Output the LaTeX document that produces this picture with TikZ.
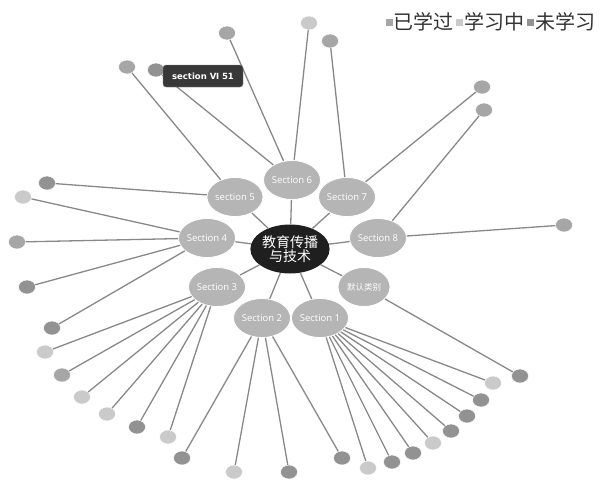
\documentclass[tikz,border=0pt]{standalone}
\usepackage{fontspec}
\newfontfamily\cjk{Noto Sans CJK SC}
\newfontfamily\secfont{Open Sans}
\newfontfamily\tipfont{DejaVu Sans}
\usetikzlibrary{shapes.geometric,positioning}
\definecolor{learned}{HTML}{A6A6A6}
\definecolor{learning}{HTML}{CACACA}
\definecolor{notyet}{HTML}{929292}
\definecolor{secgray}{HTML}{B5B5B5}
\definecolor{linegray}{HTML}{888888}
\tikzset{
  sect/.style={ellipse, fill=secgray, draw=white, line width=0.8pt, minimum width=52pt, minimum height=39pt, inner sep=0pt, text=white, font=\secfont\fontsize{9.5}{10}\selectfont},
  leaf/.style={ellipse, draw=white, line width=0.5pt, minimum width=17pt, minimum height=14pt, inner sep=0pt},
  rootnode/.style={ellipse, fill=black!88, minimum width=64pt, minimum height=49pt, inner sep=0pt, text=white, align=center, font=\cjk\fontsize{14}{14}\selectfont},
  link/.style={linegray, line width=1.3pt},
  legbox/.style={minimum size=7pt, inner sep=0pt},
  legtext/.style={inner sep=0pt, text=black!80, font=\cjk\fontsize{20}{20}\selectfont},
}
\begin{document}
\begin{tikzpicture}[x=1pt,y=-1pt]
  \useasboundingbox (0,0) rectangle (609,479);
  % centre and sections
  \node[rootnode] (root) at (290,249) {教育传播\\与技术};
  \node[sect] (sec6) at (292,180) {Section 6};
  \node[sect] (sec5) at (235,197) {section 5};
  \node[sect] (sec7) at (347,197) {Section 7};
  \node[sect] (sec4) at (207,238) {Section 4};
  \node[sect] (sec8) at (378,238) {Section 8};
  \node[sect] (sec3) at (217,287) {Section 3};
  \node[sect, font=\cjk\fontsize{8.5}{9}\selectfont] (sec0) at (364,287) {默认类别};
  \node[sect] (sec2) at (262,318) {Section 2};
  \node[sect] (sec1) at (320,318) {Section 1};
  \foreach \s in {sec0,sec1,sec2,sec3,sec4,sec5,sec6,sec7,sec8}
    \draw[link] (root) -- (\s);
  % leaves of section 6, 7, 8
  \node[leaf, fill=notyet] (l61) at (156,70) {};
  \node[leaf, fill=learned] (l62) at (227,33) {};
  \node[leaf, fill=learning] (l63) at (309,23) {};
  \node[leaf, fill=learned] (l71) at (330,41) {};
  \node[leaf, fill=learned] (l72) at (482,87) {};
  \node[leaf, fill=learned] (l81) at (484,110) {};
  \node[leaf, fill=learned] (l82) at (564,225) {};
  \foreach \l in {l61,l62,l63} \draw[link] (sec6) -- (\l);
  \foreach \l in {l71,l72} \draw[link] (sec7) -- (\l);
  \foreach \l in {l81,l82} \draw[link] (sec8) -- (\l);
  % leaves of section 5 and 4
  \node[leaf, fill=learned] (l51) at (127,67) {};
  \node[leaf, fill=notyet] (l52) at (47,183) {};
  \node[leaf, fill=learning] (l41) at (23,197) {};
  \node[leaf, fill=learned] (l42) at (17,242) {};
  \node[leaf, fill=notyet] (l43) at (27,287) {};
  \node[leaf, fill=notyet] (l44) at (52,328) {};
  \foreach \l in {l51,l52} \draw[link] (sec5) -- (\l);
  \foreach \l in {l41,l42,l43,l44} \draw[link] (sec4) -- (\l);
  % leaves of section 3
  \node[leaf, fill=learning] (l31) at (45,352) {};
  \node[leaf, fill=learned] (l32) at (62,375) {};
  \node[leaf, fill=learning] (l33) at (82,397) {};
  \node[leaf, fill=learning] (l34) at (107,414) {};
  \node[leaf, fill=notyet] (l35) at (137,427) {};
  \node[leaf, fill=learning] (l36) at (168,437) {};
  \foreach \l in {l31,l32,l33,l34,l35,l36} \draw[link] (sec3) -- (\l);
  % leaves of section 2
  \node[leaf, fill=notyet] (l21) at (182,458) {};
  \node[leaf, fill=learning] (l22) at (234,472) {};
  \node[leaf, fill=notyet] (l23) at (289,472) {};
  \node[leaf, fill=notyet] (l24) at (342,458) {};
  \foreach \l in {l21,l22,l23,l24} \draw[link] (sec2) -- (\l);
  % leaves of section 1
  \node[leaf, fill=learning] (l11) at (368,468) {};
  \node[leaf, fill=notyet] (l12) at (392,462) {};
  \node[leaf, fill=notyet] (l13) at (413,453) {};
  \node[leaf, fill=learning] (l14) at (433,443) {};
  \node[leaf, fill=notyet] (l15) at (451,431) {};
  \node[leaf, fill=notyet] (l16) at (467,416) {};
  \node[leaf, fill=notyet] (l17) at (481,400) {};
  \node[leaf, fill=learning] (l18) at (493,383) {};
  \foreach \l in {l11,l12,l13,l14,l15,l16,l17,l18} \draw[link] (sec1) -- (\l);
  \node[leaf, fill=notyet] (l01) at (520,376) {};
  \draw[link] (sec0) -- (l01);
  % tooltip
  \node[rounded corners=3pt, fill=black!78, draw=black!50, minimum width=80pt, minimum height=22pt, text=white, font=\tipfont\bfseries\fontsize{8.5}{9}\selectfont] (tip) at (203,76) {section Ⅵ 51};
  % legend
  \node[legbox, fill=learned] (k1) at (389,22) {};
  \node[legtext, right=1pt of k1] (t1) {已学过};
  \node[legbox, fill=learning, right=2pt of t1] (k2) {};
  \node[legtext, right=1pt of k2] (t2) {学习中};
  \node[legbox, fill=notyet, right=2pt of t2] (k3) {};
  \node[legtext, right=1pt of k3] (t3) {未学习};
\end{tikzpicture}
\end{document}
